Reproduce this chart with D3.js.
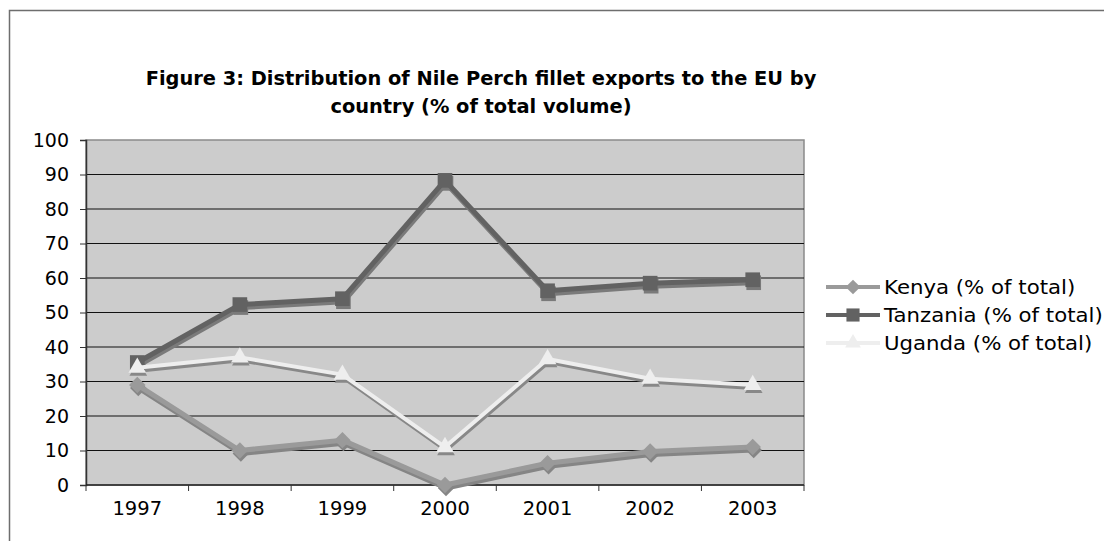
<!DOCTYPE html>
<meta charset="utf-8">
<script src="https://d3js.org/d3.v7.min.js"></script>
<style>
  body { margin: 0; background: #fff; }
  text { font-family: "DejaVu Sans", Verdana, sans-serif; fill: #000; }
</style>
<div id="chart"></div>
<script>

// data
var years = ["1997", "1998", "1999", "2000", "2001", "2002", "2003"];
var kenya = [29, 10, 13, 0, 6.3, 9.7, 11];
var tanzania = [35.5, 52.3, 54, 88.3, 56.3, 58.5, 59.5];
var uganda = [34, 37, 32, 11, 36.5, 30.8, 29];
var yTicks = [0, 10, 20, 30, 40, 50, 60, 70, 80, 90, 100];

var series = [
  {name: "Kenya (% of total)", values: kenya, color: "#9a9a9a", shadow: "#858585", symbol: d3.symbolSquare, rotate: 45, msize: 135, width: 5},
  {name: "Tanzania (% of total)", values: tanzania, color: "#626262", shadow: "#7a7a7a", symbol: d3.symbolSquare, rotate: 0, msize: 215, width: 5},
  {name: "Uganda (% of total)", values: uganda, color: "#eeeeee", shadow: "#888888", symbol: d3.symbolTriangle, rotate: 0, msize: 135, width: 4}
];

var W = 1104, H = 541;
var plot = {left: 86, top: 140, right: 804, bottom: 485};

var svg = d3.select("#chart").append("svg")
    .attr("width", W)
    .attr("height", H);

// outer chart frame
svg.append("rect")
    .attr("x", 9.5).attr("y", 10.5)
    .attr("width", 1200).attr("height", 600)
    .attr("fill", "none")
    .attr("stroke", "#6e6e6e")
    .attr("stroke-width", 1.5);

// title
var title = svg.append("text")
    .attr("text-anchor", "middle")
    .style("font-weight", "bold")
    .style("font-size", "19.4px");
title.append("tspan").attr("x", 481).attr("y", 85)
    .text("Figure 3: Distribution of Nile Perch fillet exports to the EU by");
title.append("tspan").attr("x", 481).attr("y", 113)
    .text("country (% of total volume)");

var x = d3.scaleBand()
    .domain(years)
    .range([plot.left, plot.right]);

var y = d3.scaleLinear()
    .domain([0, 100])
    .range([plot.bottom, plot.top]);

// plot background
svg.append("rect")
    .attr("x", plot.left).attr("y", plot.top)
    .attr("width", plot.right - plot.left)
    .attr("height", plot.bottom - plot.top)
    .attr("fill", "#cccccc")
    .attr("stroke", "#8a8a8a")
    .attr("stroke-width", 1.5);

// gridlines
svg.append("g")
  .selectAll("line")
  .data(yTicks.filter(function(d) { return d > 0 && d < 100; }))
  .enter()
  .append("line")
    .attr("x1", plot.left).attr("x2", plot.right)
    .attr("y1", function(d) { return y(d); })
    .attr("y2", function(d) { return y(d); })
    .attr("stroke", "#111")
    .attr("stroke-width", 1);

// y axis
var yAxis = svg.append("g")
    .attr("transform", "translate(" + plot.left + ",0)")
    .call(d3.axisLeft(y).tickValues(yTicks).tickSize(6).tickPadding(11));
yAxis.select(".domain").attr("stroke", "#333").attr("stroke-width", 1.5);
yAxis.selectAll(".tick line").attr("stroke", "#333");
yAxis.selectAll("text").style("font-size", "19px").style("font-family", "DejaVu Sans");

// x axis, ticks on the category boundaries
var xAxis = svg.append("g")
    .attr("transform", "translate(0," + plot.bottom + ")");
xAxis.append("line")
    .attr("x1", plot.left).attr("x2", plot.right)
    .attr("stroke", "#222").attr("stroke-width", 1.5);
xAxis.selectAll("line.tk")
  .data(years.concat(["end"]))
  .enter()
  .append("line")
    .attr("class", "tk")
    .attr("x1", function(d, i) { return plot.left + i * x.step(); })
    .attr("x2", function(d, i) { return plot.left + i * x.step(); })
    .attr("y1", 0).attr("y2", 6)
    .attr("stroke", "#333");
xAxis.selectAll("text")
  .data(years)
  .enter()
  .append("text")
    .attr("x", function(d) { return x(d) + x.bandwidth() / 2; })
    .attr("y", 30)
    .attr("text-anchor", "middle")
    .style("font-size", "19.5px")
    .text(function(d) { return d; });

var line = d3.line()
    .x(function(d, i) { return x(years[i]) + x.bandwidth() / 2; })
    .y(function(d) { return y(d); });

function markerPos(s) {
  return function(d, i) {
    return "translate(" + (x(years[i]) + x.bandwidth() / 2) + "," + y(d) + ") rotate(" + s.rotate + ")";
  };
}

// shadows first, then the lines
series.forEach(function(s) {
  var g = svg.append("g").attr("transform", "translate(1,3)");
  g.append("path")
    .datum(s.values)
    .attr("d", line)
    .attr("fill", "none")
    .attr("stroke", s.shadow)
    .attr("stroke-width", s.width)
    .attr("stroke-linejoin", "round");
  g.selectAll("path.m")
    .data(s.values)
    .enter()
    .append("path")
      .attr("class", "m")
      .attr("transform", markerPos(s))
      .attr("d", d3.symbol().type(s.symbol).size(s.msize))
      .attr("fill", s.shadow);
});

series.forEach(function(s) {
  svg.append("path")
    .datum(s.values)
    .attr("d", line)
    .attr("fill", "none")
    .attr("stroke", s.color)
    .attr("stroke-width", s.width)
    .attr("stroke-linejoin", "round");
  svg.append("g")
    .selectAll("path")
    .data(s.values)
    .enter()
    .append("path")
      .attr("transform", markerPos(s))
      .attr("d", d3.symbol().type(s.symbol).size(s.msize))
      .attr("fill", s.color);
});

// legend
var legend = svg.append("g")
    .attr("transform", "translate(826,287)");
var item = legend.selectAll("g")
  .data(series)
  .enter()
  .append("g")
    .attr("transform", function(d, i) { return "translate(0," + (i * 28) + ")"; });
item.append("line")
    .attr("x1", 0).attr("x2", 54)
    .attr("stroke", function(d) { return d.color; })
    .attr("stroke-width", 4);
item.append("path")
    .attr("transform", function(d) { return "translate(27,0) rotate(" + d.rotate + ")"; })
    .attr("d", function(d) { return d3.symbol().type(d.symbol).size(d.msize * 0.8)(); })
    .attr("fill", function(d) { return d.color; });
item.append("text")
    .attr("transform", "translate(58,7) scale(1.12,1)")
    .style("font-size", "19px")
    .text(function(d) { return d.name; });

</script>
